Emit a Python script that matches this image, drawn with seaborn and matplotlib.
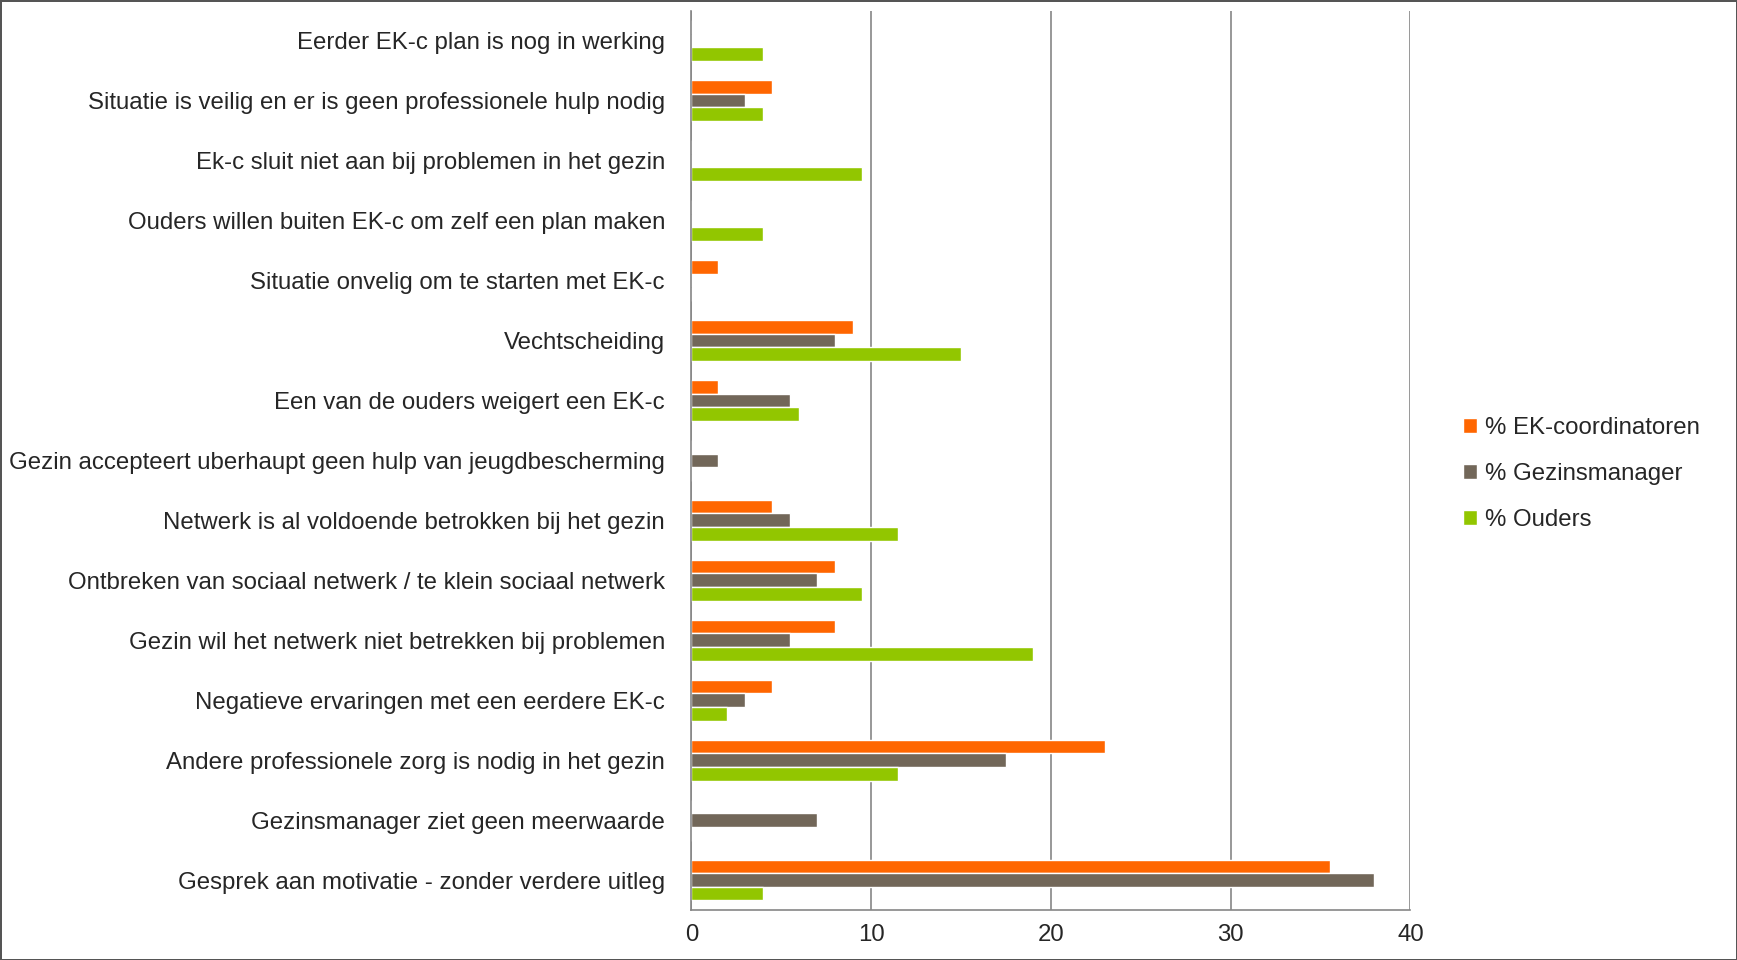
import numpy as np
import pandas as pd
import matplotlib
matplotlib.use("Agg")
import matplotlib.pyplot as plt
import seaborn as sns

categories = [
    "Eerder EK-c plan is nog in werking",
    "Situatie is veilig en er is geen professionele hulp nodig",
    "Ek-c sluit niet aan bij problemen in het gezin",
    "Ouders willen buiten EK-c om zelf een plan maken",
    "Situatie onvelig om te starten met EK-c",
    "Vechtscheiding",
    "Een van de ouders weigert een EK-c",
    "Gezin accepteert uberhaupt geen hulp van jeugdbescherming",
    "Netwerk is al voldoende betrokken bij het gezin",
    "Ontbreken van sociaal netwerk / te klein sociaal netwerk",
    "Gezin wil het netwerk niet betrekken bij problemen",
    "Negatieve ervaringen met een eerdere EK-c",
    "Andere professionele zorg is nodig in het gezin",
    "Gezinsmanager ziet geen meerwaarde",
    "Gesprek aan motivatie - zonder verdere uitleg",
]
ek_coordinatoren = [0, 4.5, 0, 0, 1.5, 9.0, 1.5, 0, 4.5, 8.0, 8.0, 4.5, 23.0, 0, 35.5]
gezinsmanager = [0, 3.0, 0, 0, 0, 8.0, 5.5, 1.5, 5.5, 7.0, 5.5, 3.0, 17.5, 7.0, 38.0]
ouders = [4.0, 4.0, 9.5, 4.0, 0, 15.0, 6.0, 0, 11.5, 9.5, 19.0, 2.0, 11.5, 0, 4.0]
series = ["% EK-coordinatoren", "% Gezinsmanager", "% Ouders"]
colors = ["#FF6600", "#726759", "#92C600"]
xticks = [0, 10, 20, 30, 40]

df = pd.DataFrame({
    "categorie": categories * 3,
    "waarde": ek_coordinatoren + gezinsmanager + ouders,
    "reeks": np.repeat(series, len(categories)),
})

sns.set_style("white")
plt.rcParams["font.family"] = ["Liberation Sans", "DejaVu Sans"]
fs = 17.3

fig = plt.figure(figsize=(17.37, 9.6), dpi=100)
ax = fig.add_axes([0.398, 0.052, 0.414, 0.937])

sns.barplot(data=df, y="categorie", x="waarde", hue="reeks", order=categories,
            hue_order=series, palette=colors, orient="h", width=0.68,
            saturation=1, ax=ax, errorbar=None)

ax.set_xlim(0, 40)
ax.set_ylim(len(categories) - 0.5, -0.5)
ax.set_xticks(xticks)
ax.set_xticklabels([str(t) for t in xticks], fontsize=fs)
ax.tick_params(axis="x", length=6, width=1, color="#868686", pad=4)
ax.set_yticks(range(len(categories)))
ax.set_yticklabels(categories, fontsize=fs)
ax.tick_params(axis="y", which="major", length=0, pad=19)
ax.set_yticks(np.arange(-0.5, len(categories)), minor=True)
ax.tick_params(axis="y", which="minor", length=6, width=1, color="#868686")
ax.set_xlabel("")
ax.set_ylabel("")
ax.xaxis.grid(True, color="#868686", linewidth=1.2)
ax.set_axisbelow(True)
for s in ["top", "right"]:
    ax.spines[s].set_visible(False)
for s in ["left", "bottom"]:
    ax.spines[s].set_color("#868686")
    ax.spines[s].set_linewidth(1.2)

handles, labels = ax.get_legend_handles_labels()
ax.legend(handles, labels, loc="center left", bbox_to_anchor=(1.043, 0.485),
          frameon=False, fontsize=fs, handlelength=0.6, handleheight=0.6,
          handletextpad=0.3, labelspacing=1.0)

fig.patch.set_edgecolor("#555555")
fig.patch.set_linewidth(2)

fig.savefig("out.png", dpi=100, edgecolor=fig.get_edgecolor())
